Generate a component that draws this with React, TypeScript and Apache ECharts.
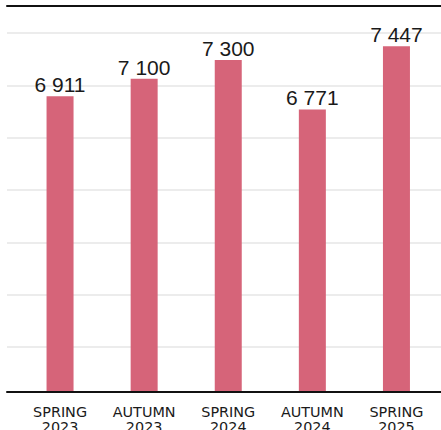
import React, { useEffect, useRef } from "react";
import * as echarts from "echarts";

const categories = ["SPRING\n2023", "AUTUMN\n2023", "SPRING\n2024", "AUTUMN\n2024", "SPRING\n2025"];
const totals = [6911, 7100, 7300, 6771, 7447];
const valueAxisMin = 3740;
const valueAxisMax = 7880;

const fmt = (v: number) => String(v).replace(/\B(?=(\d{3})+(?!\d))/g, " ");

export default function App() {
  const ref = useRef<HTMLDivElement>(null);
  useEffect(() => {
    if (!ref.current) return;
    const chart = echarts.init(ref.current, undefined, { renderer: "svg" });
    chart.setOption({
      animation: false,
      backgroundColor: "#ffffff",
      grid: [
        { left: 18, right: 2.5, top: 6, bottom: 38, outerBoundsMode: "none" },
        { left: 7, right: 0, top: 6, bottom: 30.7, outerBoundsMode: "none" },
      ],
      xAxis: [
        {
          gridIndex: 0,
          type: "category",
          data: categories,
          axisLine: { show: false },
          axisTick: { show: false },
          splitLine: { show: false },
          axisLabel: {
            interval: 0,
            margin: 12.5,
            color: "#1a1a1a",
            fontFamily: "DejaVu Sans",
            fontSize: 14.4,
            lineHeight: 15,
          },
        },
        {
          gridIndex: 1,
          type: "value",
          position: "top",
          min: 0,
          max: 1,
          axisLine: { show: true, onZero: false, lineStyle: { color: "#111111", width: 2 } },
          axisTick: { show: false },
          axisLabel: { show: false },
          splitLine: { show: false },
          z: 10,
        },
        {
          gridIndex: 1,
          type: "value",
          position: "bottom",
          offset: -7.3,
          min: 0,
          max: 1,
          axisLine: { show: true, onZero: false, lineStyle: { color: "#111111", width: 2 } },
          axisTick: { show: false },
          axisLabel: { show: false },
          splitLine: { show: false },
          z: 10,
        },
      ],
      yAxis: [
        {
          gridIndex: 0,
          type: "value",
          min: valueAxisMin,
          max: valueAxisMax,
          show: false,
          splitLine: { show: false },
        },
        {
          gridIndex: 1,
          type: "value",
          min: 0,
          max: 7.52,
          interval: 1,
          axisLine: { show: false, onZero: false },
          axisTick: { show: false },
          axisLabel: { show: false },
          splitLine: {
            show: true,
            showMinLine: false,
            showMaxLine: false,
            lineStyle: { color: "#ececec", width: 2, type: "solid" },
          },
        },
      ],
      series: [
        {
          type: "bar",
          xAxisIndex: 0,
          yAxisIndex: 0,
          data: totals,
          barWidth: 27,
          itemStyle: { color: "#d66479" },
          label: {
            show: true,
            position: "top",
            distance: 1,
            color: "#1a1a1a",
            fontFamily: "Liberation Sans",
            fontSize: 21,
            formatter: (p: any) => fmt(p.value),
          },
        },
      ],
    });
    return () => chart.dispose();
  }, []);
  return (
    <div
      ref={ref}
      style={{ position: "fixed", left: 0, top: 0, width: 441, height: 430, overflow: "hidden" }}
    />
  );
}
